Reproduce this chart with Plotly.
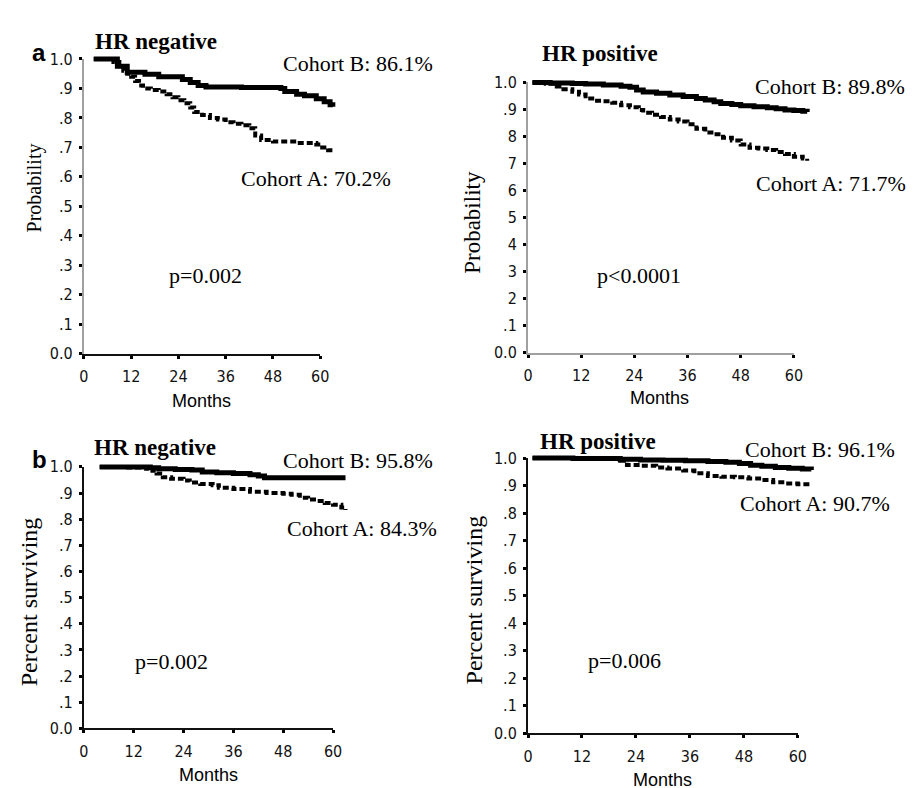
import plotly.graph_objects as go

# ---------------- data ----------------
tick_months = [0, 12, 24, 36, 48, 60]
y_tickvals = [0.0, 0.1, 0.2, 0.3, 0.4, 0.5, 0.6, 0.7, 0.8, 0.9, 1.0]
y_ticktext_std = ["0.0", ".1", ".2", ".3", ".4", ".5", ".6", ".7", ".8", ".9", "1.0"]
y_ticktext_tr = ["0.0", ".1", "2", "3", "4", "5", "6", "7", "8", ".9", "1.0"]

# a) HR negative (recurrence-free probability)
a_neg_b_months = [2.5, 8.5, 11, 15.5, 19, 25, 27, 29, 31, 40, 50, 51, 54, 56, 59, 61, 62.5, 63.2]
a_neg_b_surv = [1.0, 0.975, 0.955, 0.948, 0.94, 0.93, 0.92, 0.91, 0.905, 0.903, 0.90, 0.89, 0.88, 0.875, 0.865, 0.855, 0.845, 0.838]
a_neg_a_months = [2.5, 7.5, 9, 10, 11, 12, 13, 14, 15, 17, 19, 21, 22.5, 24, 25.5, 27, 28, 30, 32, 34, 36, 38,
                  40, 42, 43.5, 45, 48, 51, 54, 57, 59, 60.5, 62, 63.2]
a_neg_a_surv = [1.0, 0.99, 0.975, 0.96, 0.95, 0.94, 0.925, 0.91, 0.90, 0.895, 0.89, 0.88, 0.87, 0.86, 0.85, 0.835,
                0.82, 0.81, 0.80, 0.795, 0.785, 0.78, 0.775, 0.765, 0.74, 0.725, 0.72, 0.72, 0.715, 0.715, 0.71,
                0.70, 0.69, 0.682]

# a) HR positive
a_pos_b_months = [1, 5, 10, 13, 17, 21, 23, 24.5, 26, 29, 32, 35, 38, 40, 42, 43.5, 46, 48, 51, 54, 56, 58, 60, 62, 63]
a_pos_b_surv = [1.0, 0.998, 0.996, 0.994, 0.99, 0.986, 0.982, 0.972, 0.964, 0.96, 0.953, 0.948, 0.94, 0.935, 0.928,
                0.922, 0.918, 0.914, 0.91, 0.906, 0.902, 0.898, 0.896, 0.893, 0.89]
a_pos_a_months = [1, 4, 6.5, 8, 10, 11.5, 13, 15, 17, 19, 21, 23, 25, 26, 28, 30, 32, 34, 36, 38, 40, 42, 44, 46,
                  48, 50, 52, 54, 56, 58, 60, 62, 63]
a_pos_a_surv = [1.0, 0.995, 0.985, 0.975, 0.965, 0.955, 0.94, 0.932, 0.93, 0.925, 0.915, 0.908, 0.898, 0.888, 0.88,
                0.872, 0.863, 0.855, 0.845, 0.828, 0.815, 0.808, 0.795, 0.785, 0.77, 0.758, 0.755, 0.75, 0.742,
                0.735, 0.725, 0.718, 0.71]

# b) HR negative (overall survival)
b_neg_b_months = [3.8, 16, 18, 22, 26, 28.5, 32, 36, 40, 42, 43.5, 50, 60, 63]
b_neg_b_surv = [1.0, 0.997, 0.993, 0.99, 0.988, 0.98, 0.978, 0.975, 0.97, 0.965, 0.958, 0.958, 0.958, 0.958]
b_neg_a_months = [3.8, 10, 15, 16.5, 17.5, 19, 21, 24, 25.5, 28, 31, 32.5, 36, 40, 44, 48, 50, 52, 54, 56, 58, 60, 62, 63]
b_neg_a_surv = [1.0, 0.998, 0.993, 0.985, 0.975, 0.96, 0.955, 0.948, 0.94, 0.935, 0.93, 0.92, 0.915, 0.905, 0.90,
                0.897, 0.893, 0.882, 0.875, 0.87, 0.862, 0.855, 0.845, 0.835]

# b) HR positive
b_pos_b_months = [1, 10, 20.5, 25, 30, 35, 40, 44, 47, 49.5, 52, 55, 58, 61, 63]
b_pos_b_surv = [1.0, 0.999, 0.996, 0.993, 0.992, 0.99, 0.988, 0.985, 0.98, 0.974, 0.97, 0.966, 0.963, 0.96, 0.957]
b_pos_a_months = [1, 10, 20.5, 22, 25, 28.5, 31, 34.5, 37, 40, 43, 46, 49, 52, 54.5, 57, 60, 63]
b_pos_a_surv = [1.0, 0.999, 0.99, 0.975, 0.972, 0.966, 0.962, 0.955, 0.945, 0.935, 0.932, 0.93, 0.926, 0.92, 0.912,
                0.908, 0.905, 0.904]

# ---------------- layout geometry (pixels) ----------------
W, H = 916, 788
SERIF = "Liberation Serif, Times New Roman, serif"
SANS = "Liberation Sans, Arial, sans-serif"
NARROW = "Liberation Sans Narrow, Arial Narrow, DejaVu Sans Condensed, Liberation Sans, sans-serif"

panels = [
    # x0 px (month 0), px per month, y0 px (prob 0), px per unit, axis colours, ticktext, curves
    dict(x0=72, sx=4.0, y0=345, sy=302, xcol="#111111", ycol="#a0a0a0", ytext=y_ticktext_std,
         b=(a_neg_b_months, a_neg_b_surv), a=(a_neg_a_months, a_neg_a_surv)),
    dict(x0=523, sx=4.5, y0=344, sy=277, xcol="#a0a0a0", ycol="#a0a0a0", ytext=y_ticktext_tr,
         b=(a_pos_b_months, a_pos_b_surv), a=(a_pos_a_months, a_pos_a_surv)),
    dict(x0=72, sx=4.217, y0=729, sy=268, xcol="#111111", ycol="#111111", ytext=y_ticktext_std,
         b=(b_neg_b_months, b_neg_b_surv), a=(b_neg_a_months, b_neg_a_surv)),
    dict(x0=523, sx=4.567, y0=734, sy=282, xcol="#111111", ycol="#111111", ytext=y_ticktext_std,
         b=(b_pos_b_months, b_pos_b_surv), a=(b_pos_a_months, b_pos_a_surv)),
]

fig = go.Figure()
layout = {}


def ax_name(k):
    return "" if k == 1 else str(k)


for i, p in enumerate(panels):
    kd = 2 * i + 1  # display axes
    kc = 2 * i + 2  # data axes
    # display axes: range 0-60 / 0-1
    xd = [p["x0"] / W, (p["x0"] + 60 * p["sx"]) / W]
    yd = [1 - p["y0"] / H, 1 - (p["y0"] - 1.0 * p["sy"]) / H]
    layout["xaxis" + ax_name(kd)] = dict(
        domain=xd, range=[0, 60], anchor="y" + ax_name(kd), showline=True, linecolor=p["xcol"], linewidth=2,
        ticks="outside", ticklen=3, tickwidth=3, tickcolor="#000000", tickvals=tick_months,
        ticktext=[str(v) for v in tick_months], tickfont=dict(family=NARROW, size=16, color="#111111"),
        showgrid=False, zeroline=False, fixedrange=True, ticklabelstandoff=4)
    layout["yaxis" + ax_name(kd)] = dict(
        domain=yd, range=[0, 1], anchor="x" + ax_name(kd), showline=True, linecolor=p["ycol"], linewidth=2,
        ticks="outside", ticklen=3, tickwidth=3, tickcolor="#000000", tickvals=y_tickvals,
        ticktext=p["ytext"], tickfont=dict(family=NARROW, size=16, color="#111111"),
        showgrid=False, zeroline=False, fixedrange=True, ticklabelstandoff=3)
    fig.add_trace(go.Scatter(x=[], y=[], xaxis="x" + ax_name(kd), yaxis="y" + ax_name(kd),
                             mode="lines", hoverinfo="skip"))
    # data axes: slightly wider range so the curves run past 60 months
    xc = [p["x0"] / W, (p["x0"] + 64 * p["sx"]) / W]
    yc = [1 - p["y0"] / H, 1 - (p["y0"] - 1.03 * p["sy"]) / H]
    layout["xaxis" + ax_name(kc)] = dict(domain=xc, range=[0, 64], anchor="y" + ax_name(kc), visible=False,
                                         fixedrange=True)
    layout["yaxis" + ax_name(kc)] = dict(domain=yc, range=[0, 1.03], anchor="x" + ax_name(kc), visible=False,
                                         fixedrange=True)
    fig.add_trace(go.Scatter(x=p["a"][0], y=p["a"][1], xaxis="x" + ax_name(kc), yaxis="y" + ax_name(kc),
                             mode="lines", line=dict(color="#000000", width=4, dash="6px,3px", shape="hv"),
                             name="Cohort A"))
    fig.add_trace(go.Scatter(x=p["b"][0], y=p["b"][1], xaxis="x" + ax_name(kc), yaxis="y" + ax_name(kc),
                             mode="lines", line=dict(color="#000000", width=5, shape="hv"),
                             name="Cohort B"))


annotations = []


def note(text, x, y, family, size, xanchor="left", yanchor="middle", angle=0):
    annotations.append(dict(text=text, x=x / W, y=1 - y / H, xref="paper", yref="paper",
                            xanchor=xanchor, yanchor=yanchor, showarrow=False, textangle=angle,
                            font=dict(family=family, size=size, color="#000000")))


# panel letters
note("<b>a</b>", 17, 36, SANS, 24)
note("<b>b</b>", 17, 453, SANS, 24)
# titles
note("<b>HR negative</b>", 81, 25, SERIF, 23)
note("<b>HR positive</b>", 535, 37, SERIF, 23)
note("<b>HR negative</b>", 80, 441, SERIF, 23)
note("<b>HR positive</b>", 533, 435, SERIF, 23)
# cohort labels
note("Cohort B: 86.1%", 272, 48, SERIF, 22)
note("Cohort A: 70.2%", 229, 165, SERIF, 22)
note("Cohort B: 89.8%", 751, 71, SERIF, 22)
note("Cohort A: 71.7%", 752, 171, SERIF, 22)
note("Cohort B: 95.8%", 272, 454, SERIF, 22)
note("Cohort A: 84.3%", 276, 524, SERIF, 22)
note("Cohort B: 96.1%", 741, 443, SERIF, 22)
note("Cohort A: 90.7%", 736, 499, SERIF, 22)
# p values
note("p=0.002", 156, 265, SERIF, 22)
note("p&lt;0.0001", 591, 265, SERIF, 22)
note("p=0.002", 122, 660, SERIF, 22)
note("p=0.006", 582, 659, SERIF, 22)
# axis titles
note("Months", 191, 393, SANS, 18, xanchor="center")
note("Months", 657, 390, SANS, 18, xanchor="center")
note("Months", 199, 777, SANS, 18, xanchor="center")
note("Months", 660, 782, SANS, 18, xanchor="center")
note("Probability", 22, 175, SERIF, 20, xanchor="center", angle=-90)
note("Probability", 467, 210, SERIF, 23, xanchor="center", angle=-90)
note("Percent surviving", 16, 599, SERIF, 24, xanchor="center", angle=-90)
note("Percent surviving", 468, 597, SERIF, 24, xanchor="center", angle=-90)

fig.update_layout(
    width=W, height=H, autosize=False, margin=dict(l=0, r=0, t=0, b=0),
    paper_bgcolor="#ffffff", plot_bgcolor="rgba(0,0,0,0)", showlegend=False,
    annotations=annotations, **layout)

fig.write_html("out.html")
